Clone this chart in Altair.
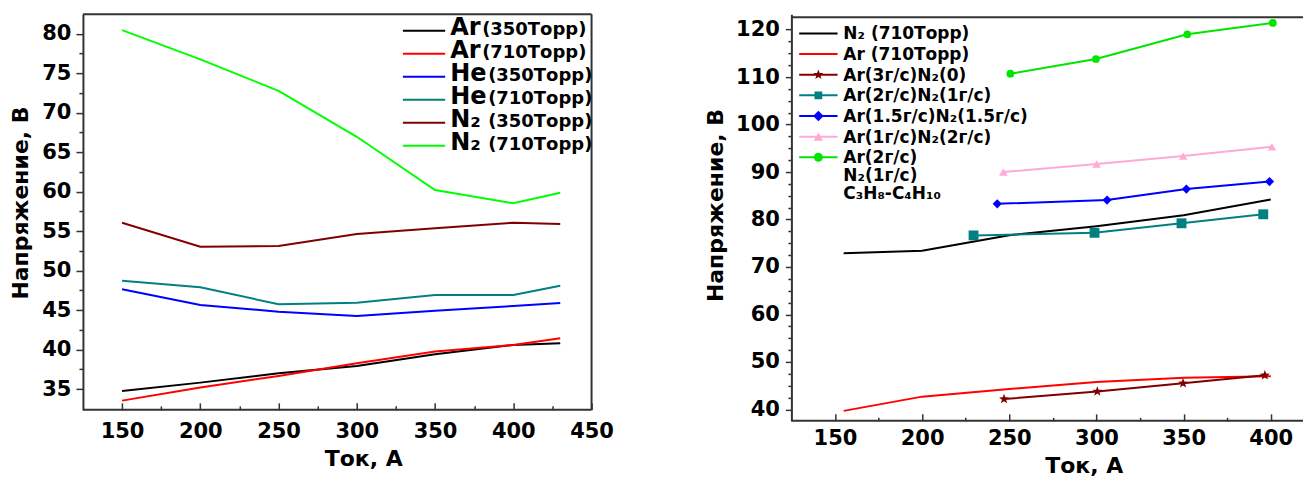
import math
import altair as alt
import pandas as pd

FONT = "DejaVu Sans"
FRAME = "#333333"

# ---------------- left panel data ----------------
left_current = [150, 200, 250, 300, 350, 400, 430]
left_names = ["Ar", "Ar", "He", "He", "N₂", "N₂"]
left_press = ["(350Торр)", "(710Торр)", "(350Торр)", "(710Торр)", "(350Торр)", "(710Торр)"]
left_colors = ["#000000", "#ff0000", "#0000ff", "#008080", "#800000", "#00ff00"]
ar_350 = [34.77, 35.82, 37.01, 37.94, 39.42, 40.59, 40.81]
ar_710 = [33.54, 35.19, 36.67, 38.28, 39.75, 40.59, 41.44]
he_350 = [47.65, 45.66, 44.81, 44.27, 44.94, 45.53, 45.91]
he_710 = [48.73, 47.90, 45.75, 45.95, 46.92, 46.92, 48.10]
n2_350 = [56.08, 53.04, 53.13, 54.65, 55.37, 56.08, 55.91]
n2_710 = [80.47, 76.76, 72.78, 66.96, 60.22, 58.53, 59.87]
left_values = [ar_350, ar_710, he_350, he_710, n2_350, n2_710]
left_x_ticks = [150, 175, 200, 225, 250, 275, 300, 325, 350, 375, 400, 425, 450]
left_x_labels = [150, 200, 250, 300, 350, 400, 450]
left_y_ticks = [35, 37.5, 40, 42.5, 45, 47.5, 50, 52.5, 55, 57.5, 60, 62.5,
                65, 67.5, 70, 72.5, 75, 77.5, 80]

# ---------------- right panel data ----------------
right_labels = ["N₂ (710Торр)", "Ar (710Торр)", "Ar(3г/с)N₂(0)", "Ar(2г/с)N₂(1г/с)",
                "Ar(1.5г/с)N₂(1.5г/с)", "Ar(1г/с)N₂(2г/с)",
                "Ar(2г/с)\nN₂(1г/с)\nC₃H₈-C₄H₁₀"]
right_colors = ["#000000", "#ff0000", "#800000", "#008080", "#0000ff", "#ffaad5", "#00e600"]
n2_line_x = [155, 200, 250, 300, 350, 400]
n2_line_y = [72.9, 73.4, 76.7, 78.6, 80.9, 84.2]
ar_line_x = [155, 200, 250, 300, 350, 400]
ar_line_y = [39.7, 42.7, 44.3, 45.8, 46.7, 47.0]
mix1_x = [247.0, 300.5, 349.7, 396.6]
mix1_y = [42.2, 43.8, 45.5, 47.2]
mix2_x = [229.5, 298.9, 348.8, 395.7]
mix2_y = [76.65, 77.2, 79.2, 81.1]
mix3_x = [243.1, 306.1, 351.6, 399.3]
mix3_y = [83.3, 84.1, 86.4, 88.0]
mix4_x = [246.6, 300.1, 349.7, 400.7]
mix4_y = [90.0, 91.7, 93.35, 95.3]
mix5_x = [250.6, 299.7, 352.1, 401.2]
mix5_y = [110.7, 113.8, 119.0, 121.4]
right_xs = [n2_line_x, ar_line_x, mix1_x, mix2_x, mix3_x, mix4_x, mix5_x]
right_ys = [n2_line_y, ar_line_y, mix1_y, mix2_y, mix3_y, mix4_y, mix5_y]
right_x_ticks = [150, 175, 200, 225, 250, 275, 300, 325, 350, 375, 400]
right_x_labels = [150, 200, 250, 300, 350, 400]
right_y_ticks = [40 + 2.5 * i for i in range(33)]

# star symbol path
_pts = []
for k in range(10):
    r = 1.0 if k % 2 == 0 else 0.42
    a = math.radians(-90 + 36 * k)
    _pts.append(f"{r * math.cos(a):.3f},{r * math.sin(a):.3f}")
STAR = "M" + " L".join(_pts) + " Z"
marker_shapes = [STAR, "square", "diamond", "triangle-up", "circle"]
marker_sizes = [110, 60, 110, 90, 80]

# ---------------- tables ----------------
left_keys = [n + p for n, p in zip(left_names, left_press)]
left_rows = []
for key, vals in zip(left_keys, left_values):
    for xv, yv in zip(left_current, vals):
        left_rows.append({"current": xv, "voltage": yv, "series": key})
left_df = pd.DataFrame(left_rows)

right_rows = []
for i, (lab, xs, ys) in enumerate(zip(right_labels, right_xs, right_ys)):
    for xv, yv in zip(xs, ys):
        right_rows.append({"current": xv, "voltage": yv, "series": lab, "marker": i >= 2})
right_df = pd.DataFrame(right_rows)

LW, LH = 509, 396
RW, RH = 512, 407


def one():
    return pd.DataFrame({"k": [0]})


def hrule(x1, x2, y, color=FRAME, width=2):
    return alt.Chart(one()).mark_rule(color=color, strokeWidth=width).encode(
        x=alt.value(x1), x2=alt.value(x2), y=alt.value(y))


def vrule(x, y1, y2):
    return alt.Chart(one()).mark_rule(color=FRAME, strokeWidth=2).encode(
        x=alt.value(x), y=alt.value(y1), y2=alt.value(y2))


def cond(test, big, small):
    return {"condition": {"test": test, "value": big}, "value": small}


# ---------------- left chart ----------------
lx_scale = alt.Scale(domain=[125, 450], nice=False, zero=False)
ly_scale = alt.Scale(domain=[32.37, 82.49], nice=False, zero=False)
l_color = alt.Color("series:N", scale=alt.Scale(domain=left_keys, range=left_colors), legend=None)

l_y = alt.Y("voltage:Q", scale=ly_scale,
            axis=alt.Axis(values=left_y_ticks, labelExpr="datum.value % 5 === 0 ? datum.label : ''",
                          tickSize=cond("datum.value % 5 === 0", 7, 4), labelPadding=5,
                          title="Напряжение, В", titleX=-50, titleY=188.5,
                          domainWidth=2, domainColor=FRAME, tickWidth=1.5, tickColor=FRAME))

l_lines = alt.Chart(left_df).mark_line(strokeWidth=2).encode(
    x=alt.X("current:Q", scale=lx_scale,
            axis=alt.Axis(values=left_x_labels, ticks=False, domain=False, labelPadding=10.5,
                          labelFlush=False, labelOverlap=False,
                          title="Ток, А", titleX=280.5, titleY=38.7)),
    y=l_y, color=l_color)

l_ticks = alt.Chart(left_df).mark_line(opacity=0).encode(
    x=alt.X("current:Q", scale=lx_scale,
            axis=alt.Axis(orient="top", offset=-LH, values=left_x_ticks, labels=False, domain=False,
                          title=None, tickSize=cond("datum.value % 50 === 0", 7, 4),
                          tickWidth=1.5, tickColor=FRAME)),
    y=l_y, detail="series:N")

left_layers = [l_lines, l_ticks, hrule(0, LW, 0), vrule(LW, 0, LH), hrule(0, LW, LH)]
name_w = {"Ar": 32, "He": 38, "N₂": 38}
for i, (nm, pr, col) in enumerate(zip(left_names, left_press, left_colors)):
    yy = 16.7 + 23.0 * i
    left_layers.append(hrule(320.2, 362.5, yy, color=col, width=2))
    left_layers.append(alt.Chart(pd.DataFrame({"label": [nm]})).mark_text(
        align="left", baseline="alphabetic", font=FONT, fontSize=24, fontWeight="bold",
        color="black").encode(x=alt.value(367.5), y=alt.value(yy + 4.5), text="label:N"))
    left_layers.append(alt.Chart(pd.DataFrame({"label": [pr]})).mark_text(
        align="left", baseline="alphabetic", font=FONT, fontSize=18, fontWeight="bold",
        color="black").encode(x=alt.value(367.5 + name_w[nm]), y=alt.value(yy + 4.5), text="label:N"))

left = alt.layer(*left_layers).resolve_axis(x="independent").properties(width=LW, height=LH)

# ---------------- right chart ----------------
rx_scale = alt.Scale(domain=[125, 418.5], nice=False, zero=False)
ry_scale = alt.Scale(domain=[37.6, 123.24], nice=False, zero=False)
r_color = alt.Color("series:N", scale=alt.Scale(domain=right_labels, range=right_colors), legend=None)

r_y = alt.Y("voltage:Q", scale=ry_scale,
            axis=alt.Axis(values=right_y_ticks, labelExpr="datum.value % 10 === 0 ? datum.label : ''",
                          tickSize=cond("datum.value % 10 === 0", 6, 3.5), labelPadding=6,
                          title="Напряжение, В", titleX=-64, titleY=191,
                          domainWidth=2, domainColor=FRAME, tickWidth=1.5, tickColor=FRAME))

r_lines = alt.Chart(right_df).mark_line(strokeWidth=2).encode(
    x=alt.X("current:Q", scale=rx_scale,
            axis=alt.Axis(values=right_x_labels, ticks=False, domain=False, labelPadding=7,
                          labelFlush=False, labelOverlap=False,
                          title="Ток, А", titleX=292.5, titleY=34.8)),
    y=r_y, color=r_color)

r_points = alt.Chart(right_df).transform_filter("datum.marker").mark_point(
    filled=True, opacity=1).encode(
    x=alt.X("current:Q", scale=rx_scale, axis=None),
    y=r_y, color=r_color,
    shape=alt.Shape("series:N", scale=alt.Scale(domain=right_labels[2:], range=marker_shapes), legend=None),
    size=alt.Size("series:N", scale=alt.Scale(domain=right_labels[2:], range=marker_sizes), legend=None))

r_ticks = alt.Chart(right_df).mark_line(opacity=0).encode(
    x=alt.X("current:Q", scale=rx_scale,
            axis=alt.Axis(orient="top", offset=-RH, values=right_x_ticks, labels=False, domain=False,
                          title=None, tickSize=cond("datum.value % 50 === 0", 7, 3.5),
                          tickWidth=1.5, tickColor=FRAME)),
    y=r_y, detail="series:N")

right_layers = [r_lines, r_points, r_ticks, hrule(0, RW, 3), hrule(0, RW, RH)]
for i, (lab, col) in enumerate(zip(right_labels, right_colors)):
    yy = 19.3 + 20.65 * i
    right_layers.append(hrule(7.8, 46.2, yy, color=col, width=2))
    if i >= 2:
        right_layers.append(alt.Chart(one()).mark_point(
            filled=True, opacity=1, shape=marker_shapes[i - 2], size=marker_sizes[i - 2],
            color=col).encode(x=alt.value(27), y=alt.value(yy)))
    right_layers.append(alt.Chart(pd.DataFrame({"label": [lab]})).mark_text(
        align="left", baseline="alphabetic", font=FONT, fontSize=17, fontWeight="bold",
        color="black", lineBreak="\n", lineHeight=17.7).encode(
        x=alt.value(52), y=alt.value(yy + 6), text="label:N"))

right = alt.layer(*right_layers).resolve_axis(x="independent").properties(width=RW, height=RH)

chart = alt.hconcat(left, right, spacing=200, bounds="flush").resolve_scale(
    color="independent", shape="independent", size="independent"
).properties(
    padding={"left": 10, "top": 13, "right": 0, "bottom": 0}
).configure_view(stroke=None).configure_axis(
    labelFont=FONT, titleFont=FONT, labelFontWeight="bold", titleFontWeight="bold",
    labelFontSize=21, titleFontSize=22, labelColor="black", titleColor="black", grid=False
)

chart.save("out.html", embed_options={"renderer": "svg", "actions": False})
